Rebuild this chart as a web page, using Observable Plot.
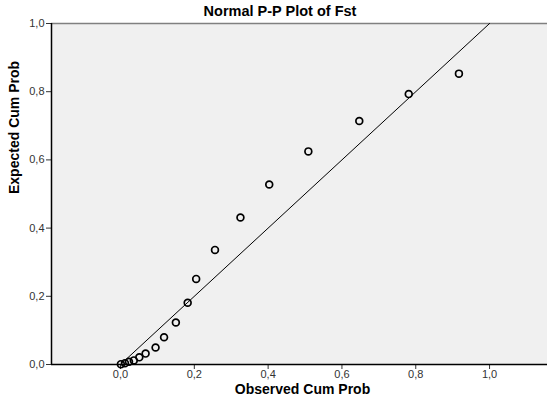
<!DOCTYPE html>
<html><head><meta charset="utf-8">
<script src="https://cdn.jsdelivr.net/npm/d3@7"></script>
<script src="https://cdn.jsdelivr.net/npm/@observablehq/plot@0.6"></script>
<style>
body{margin:0;background:#fff}
#wrap{position:relative;width:547px;height:403px;font-family:"Liberation Sans",Arial,sans-serif}
#title{position:absolute;top:3px;left:0;width:560px;text-align:center;font-weight:bold;font-size:14.5px;color:#000}
</style></head><body>
<div id="wrap"><div id="title">Normal P-P Plot of Fst</div><div id="chart"></div></div>
<script>
const observed = [0.001,0.012,0.023,0.036,0.051,0.068,0.095,0.118,0.150,0.182,0.205,0.256,0.325,0.403,0.509,0.647,0.781,0.917];
const expected = [0.001,0.004,0.008,0.012,0.021,0.032,0.050,0.080,0.123,0.181,0.251,0.336,0.431,0.528,0.625,0.714,0.793,0.853];
const tickValues = [0,0.2,0.4,0.6,0.8,1.0];
const tickLabels = ["0,0","0,2","0,4","0,6","0,8","1,0"];
const diagonal = [0,1];
const xLabel = "Observed Cum Prob";
const yLabel = "Expected Cum Prob";

const points = observed.map((x,i)=>({x, y: expected[i]}));
const diagLine = diagonal.map(v=>({x:v,y:v}));
const fmt = d => tickLabels[tickValues.findIndex(t=>Math.abs(t-d)<1e-9)];
const xDomain = [-0.187, 1.157];

const chart = Plot.plot({
  width: 547, height: 403,
  marginLeft: 51, marginRight: 0, marginTop: 23, marginBottom: 39,
  style: {fontFamily: '"Liberation Sans", Arial, sans-serif', fontSize: "11px", color: "#333", background: "transparent"},
  x: {domain: xDomain, label: null},
  y: {domain: [0, 1], label: null},
  marks: [
    Plot.frame({fill: "#f0f0f0", stroke: null}),
    Plot.ruleY([1], {stroke: "#808080", strokeWidth: 1.5}),
    Plot.axisX({ticks: tickValues, tickFormat: fmt, tickSize: 5, tickPadding: 1, label: null}),
    Plot.axisY({ticks: tickValues, tickFormat: fmt, tickSize: 5, tickPadding: 2, label: null}),
    Plot.ruleX([xDomain[0]], {stroke: "#000", strokeWidth: 1.5}),
    Plot.ruleY([0], {stroke: "#000", strokeWidth: 1.5}),
    Plot.line(diagLine, {x: "x", y: "y", stroke: "#000", strokeWidth: 1}),
    Plot.dot(points, {x: "x", y: "y", r: 3.4, stroke: "#000", strokeWidth: 1.7, fill: "none"}),
    Plot.text([xLabel], {frameAnchor: "bottom", dx: 3, dy: 29, fontWeight: "bold", fontSize: 14, fill: "#000"}),
    Plot.text([yLabel], {frameAnchor: "left", dx: -37, rotate: -90, fontWeight: "bold", fontSize: 14, fill: "#000"})
  ]
});
document.getElementById("chart").appendChild(chart);
</script>
</body></html>
